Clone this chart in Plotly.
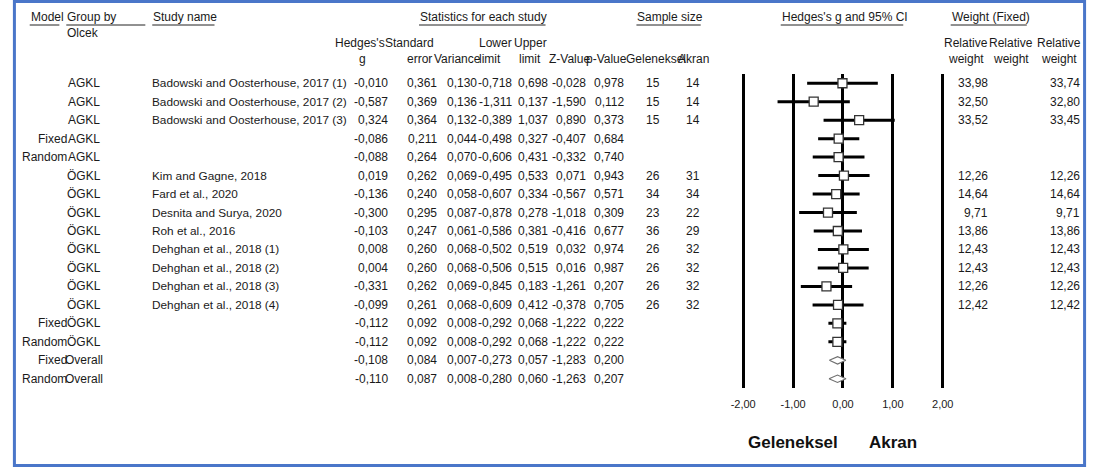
import plotly.graph_objects as go

W, H = 1097, 468

# ---------------- data ----------------
model = ["", "", "", "Fixed", "Random", "", "", "", "", "", "", "", "", "Fixed", "Random", "Fixed", "Random"]
group = ["AGKL", "AGKL", "AGKL", "AGKL", "AGKL", "ÖGKL", "ÖGKL", "ÖGKL", "ÖGKL", "ÖGKL", "ÖGKL", "ÖGKL", "ÖGKL",
         "ÖGKL", "ÖGKL", "Overall", "Overall"]
study = ["Badowski and Oosterhouse, 2017 (1)", "Badowski and Oosterhouse, 2017 (2)",
         "Badowski and Oosterhouse, 2017 (3)", "", "",
         "Kim and Gagne, 2018", "Fard et al., 2020", "Desnita and Surya, 2020", "Roh et al., 2016",
         "Dehghan et al., 2018 (1)", "Dehghan et al., 2018 (2)", "Dehghan et al., 2018 (3)",
         "Dehghan et al., 2018 (4)", "", "", "", ""]
hedges_g = [-0.010, -0.587, 0.324, -0.086, -0.088, 0.019, -0.136, -0.300, -0.103, 0.008, 0.004, -0.331, -0.099,
            -0.112, -0.112, -0.108, -0.110]
std_err = [0.361, 0.369, 0.364, 0.211, 0.264, 0.262, 0.240, 0.295, 0.247, 0.260, 0.260, 0.262, 0.261,
           0.092, 0.092, 0.084, 0.087]
variance = [0.130, 0.136, 0.132, 0.044, 0.070, 0.069, 0.058, 0.087, 0.061, 0.068, 0.068, 0.069, 0.068,
            0.008, 0.008, 0.007, 0.008]
lower = [-0.718, -1.311, -0.389, -0.498, -0.606, -0.495, -0.607, -0.878, -0.586, -0.502, -0.506, -0.845, -0.609,
         -0.292, -0.292, -0.273, -0.280]
upper = [0.698, 0.137, 1.037, 0.327, 0.431, 0.533, 0.334, 0.278, 0.381, 0.519, 0.515, 0.183, 0.412,
         0.068, 0.068, 0.057, 0.060]
z_val = [-0.028, -1.590, 0.890, -0.407, -0.332, 0.071, -0.567, -1.018, -0.416, 0.032, 0.016, -1.261, -0.378,
         -1.222, -1.222, -1.283, -1.263]
p_val = [0.978, 0.112, 0.373, 0.684, 0.740, 0.943, 0.571, 0.309, 0.677, 0.974, 0.987, 0.207, 0.705,
         0.222, 0.222, 0.200, 0.207]
n_geleneksel = [15, 15, 15, None, None, 26, 34, 23, 36, 26, 26, 26, 26, None, None, None, None]
n_akran = [14, 14, 14, None, None, 31, 34, 22, 29, 32, 32, 32, 32, None, None, None, None]
weight_fixed = [33.98, 32.50, 33.52, None, None, 12.26, 14.64, 9.71, 13.86, 12.43, 12.43, 12.26, 12.42,
                None, None, None, None]
weight_rel3 = [33.74, 32.80, 33.45, None, None, 12.26, 14.64, 9.71, 13.86, 12.43, 12.43, 12.26, 12.42,
               None, None, None, None]
marker_kind = ["sq"] * 15 + ["diamond", "diamond"]
axis_ticks = [-2, -1, 0, 1, 2]
axis_ticktext = ["-2,00", "-1,00", "0,00", "1,00", "2,00"]
favours = ["Geleneksel", "Akran"]

# ---------------- helpers ----------------
FONT = "Arial, Liberation Sans, sans-serif"
TXT = "#1a1a1a"


def X(px):
    return px / W


def Y(py):
    return 1 - py / H


def fmt(v, d=3):
    if v is None:
        return ""
    return f"{v:.{d}f}".replace(".", ",")


rows = list(range(len(hedges_g)))
fig = go.Figure()

# CI lines
cx, cy = [], []
for i in rows:
    if marker_kind[i] == "sq":
        cx += [lower[i], upper[i], None]
        cy += [i, i, None]
fig.add_trace(go.Scatter(x=cx, y=cy, mode="lines", line=dict(color="black", width=3),
                         hoverinfo="skip", showlegend=False))
# squares
sq = [i for i in rows if marker_kind[i] == "sq"]
fig.add_trace(go.Scatter(x=[hedges_g[i] for i in sq], y=sq, mode="markers",
                         marker=dict(symbol="square", size=9, color="white",
                                     line=dict(color="#333333", width=1.3)),
                         showlegend=False))
# diamonds
for i in rows:
    if marker_kind[i] == "diamond":
        fig.add_trace(go.Scatter(x=[lower[i], hedges_g[i], upper[i], hedges_g[i], lower[i]],
                                 y=[i, i - 0.2, i, i + 0.2, i], mode="lines", fill="toself",
                                 fillcolor="white", line=dict(color="#707070", width=1.2),
                                 showlegend=False))

ann = []


def txt(x, y, s, anchor="left", size=12, yref="paper", bold=False, color=TXT):
    ann.append(dict(x=x, y=y, xref="paper", yref=yref, text=(f"<b>{s}</b>" if bold else s),
                    showarrow=False, xanchor=anchor, yanchor="middle", borderpad=0,
                    font=dict(family=FONT, size=size, color=color)))


# row texts
for i in rows:
    if model[i]:
        txt(X(62), i, model[i], "right", yref="y")
    txt(X(77.5), i, group[i], "center", yref="y")
    if study[i]:
        txt(X(146), i, study[i], "left", yref="y", size=11.8)
    txt(X(387), i, fmt(hedges_g[i]), "right", yref="y")
    txt(X(436), i, fmt(std_err[i]), "right", yref="y")
    txt(X(477), i, fmt(variance[i]), "right", yref="y")
    txt(X(512), i, fmt(lower[i]), "right", yref="y")
    txt(X(548), i, fmt(upper[i]), "right", yref="y")
    txt(X(587), i, fmt(z_val[i]), "right", yref="y")
    txt(X(625), i, fmt(p_val[i]), "right", yref="y")
    if n_geleneksel[i] is not None:
        txt(X(654), i, str(n_geleneksel[i]), "center", yref="y")
        txt(X(702), i, str(n_akran[i]), "right", yref="y")
    if weight_fixed[i] is not None:
        txt(X(994), i, fmt(weight_fixed[i], 2), "right", yref="y")
        txt(X(1087), i, fmt(weight_rel3[i], 2), "right", yref="y")

# headers
y1, y2, y3, y4 = Y(17), Y(33), Y(43), Y(59)
txt(X(23), y1, "Model")
txt(X(60), y1, "Group by")
txt(X(60), y2, "Olcek")
txt(X(147), y1, "Study name")
txt(X(417), y1, "Statistics for each study")
txt(X(637), y1, "Sample size")
txt(X(783), y1, "Hedges's g and 95% CI")
txt(X(955), y1, "Weight (Fixed)")
txt(X(357), y3, "Hedges's", "center")
txt(X(360), y4, "g", "center")
txt(X(407), y3, "Standard", "center")
txt(X(417), y4, "error", "center")
txt(X(456), y4, "Variance", "center")
txt(X(512), y3, "Lower", "right")
txt(X(489), y4, "limit", "center")
txt(X(512), y3, "Upper", "left")
txt(X(529), y4, "limit", "center")
txt(X(569), y4, "Z-Value", "center")
txt(X(607), y4, "p-Value", "center")
txt(X(657), y4, "Geleneksel", "center")
txt(X(695), y4, "Akran", "center")
for cxp in (970, 1016, 1065):
    txt(X(cxp), y3, "Relative", "center")
    txt(X(cxp), y4, "weight", "center")

# favours labels
txt(X(795), Y(442), favours[0], "center", size=17, bold=True, color="#111111")
txt(X(897), Y(442), favours[1], "center", size=17, bold=True, color="#111111")

shapes = []
for a, b in [(23, 53), (60, 140), (147, 210), (417, 545), (637, 702), (783, 907), (955, 1032)]:
    shapes.append(dict(type="line", xref="paper", yref="paper", x0=X(a), x1=X(b), y0=Y(25), y1=Y(25),
                       line=dict(color="#222222", width=1)))
# frame
shapes.append(dict(type="rect", xref="paper", yref="paper", x0=X(7.5), x1=X(1090.5), y0=Y(465.5), y1=Y(1.5),
                   line=dict(color="#4a76c9", width=3)))

fig.update_layout(
    width=W, height=H, margin=dict(l=0, r=0, t=0, b=0),
    paper_bgcolor="white", plot_bgcolor="white",
    annotations=ann, shapes=shapes, showlegend=False,
    xaxis=dict(domain=[X(745 - 0.1 * 50.5), X(947 + 0.1 * 50.5)], range=[-2.1, 2.1],
               tickvals=axis_ticks, ticktext=axis_ticktext, showgrid=True, gridcolor="black",
               gridwidth=3, zeroline=False, showline=False, ticks="", ticklabelstandoff=8,
               tickfont=dict(family=FONT, size=11, color=TXT), fixedrange=True),
    yaxis=dict(domain=[Y(388), Y(74)], range=[16.5, -0.5], showgrid=False, zeroline=False,
               showticklabels=False, showline=False, ticks="", fixedrange=True),
)

fig.write_html(
    "out.html",
    config={"responsive": False, "displayModeBar": False},
    post_script=("document.documentElement.style.margin='0';document.body.style.margin='0';"
                 "document.body.style.padding='0';document.documentElement.style.overflow='hidden';"
                 "document.body.style.overflow='hidden';"),
)
